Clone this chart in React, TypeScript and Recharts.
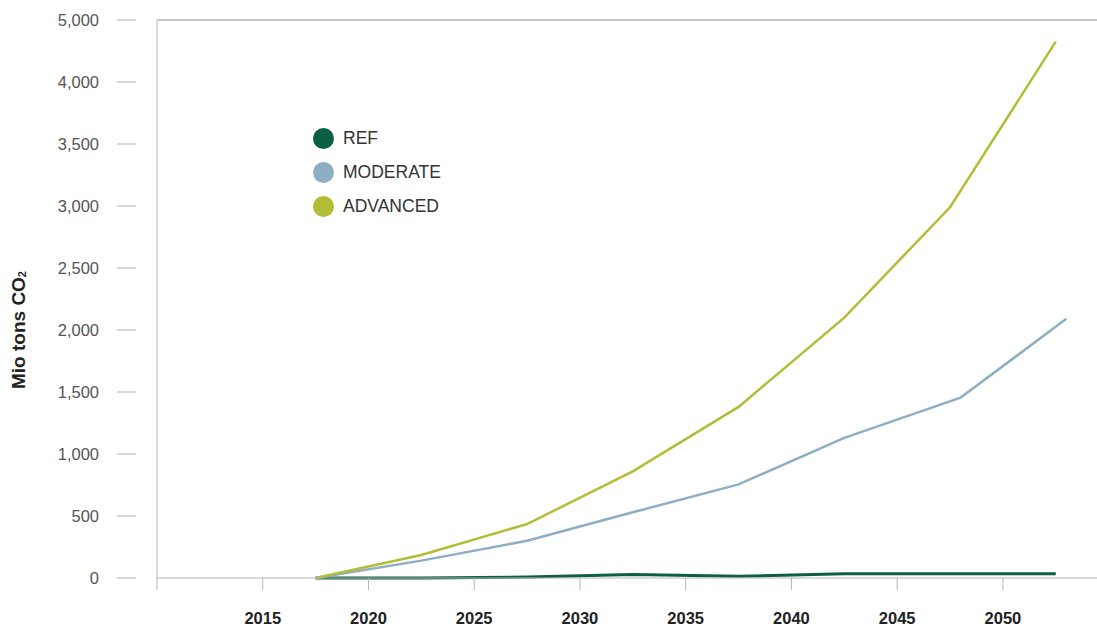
import React from "react";
import { LineChart, Line, XAxis, YAxis, ReferenceLine, Label } from "recharts";

// x positions (points sit between the year ticks)
const refYears = [2017.5, 2022.5, 2027.5, 2032.5, 2037.5, 2042.5, 2047.5, 2052.5];
const refValues = [0, 0, 8, 28, 14, 35, 35, 35];

const moderateYears = [2017.5, 2022.5, 2027.5, 2032.5, 2037.5, 2042.5, 2048, 2053];
const moderateValues = [0, 140, 300, 530, 755, 1130, 1455, 2090];

const advancedYears = [2017.5, 2022.5, 2027.5, 2032.5, 2037.5, 2042.5, 2047.5, 2052.5];
const advancedValues = [0, 185, 435, 860, 1380, 2100, 2990, 4325];

const xTicks = [2010, 2015, 2020, 2025, 2030, 2035, 2040, 2045, 2050];
const xTickLabels = ["", "2015", "2020", "2025", "2030", "2035", "2040", "2045", "2050"];

const yTicks = [0, 500, 1000, 1500, 2000, 2500, 3000, 3500, 4000, 4500];
const yTickLabels = ["0", "500", "1,000", "1,500", "2,000", "2,500", "3,000", "3,500", "4,000", "5,000"];

const series = [
    { name: "REF", color: "#0c5f45", width: 3, years: refYears, values: refValues },
    { name: "MODERATE", color: "#8eaec4", width: 2.5, years: moderateYears, values: moderateValues },
    { name: "ADVANCED", color: "#b2bd35", width: 2.5, years: advancedYears, values: advancedValues },
];

const FONT = "'Liberation Sans', Arial, sans-serif";

const YTick = (props: any) => {
    const { y, payload } = props;
    const label = yTickLabels[yTicks.indexOf(payload.value)];
    return (
        <g>
            <line x1={117} x2={136} y1={y} y2={y} stroke="#b0b0b0" strokeWidth={1} />
            <text x={99} y={y} dy="0.35em" textAnchor="end" fill="#555" fontSize={16.5} fontFamily={FONT}>
                {label}
            </text>
        </g>
    );
};

const AxisTitle = () => (
    <text
        x={18}
        y={330}
        transform="rotate(-90 18 330)"
        textAnchor="middle"
        dominantBaseline="central"
        fill="#222"
        fontSize={19}
        fontWeight="bold"
        fontFamily={FONT}
    >
        Mio tons CO
        <tspan fontSize={11} dy={4}>2</tspan>
    </text>
);

export default function App() {
    return (
        <div style={{ position: "absolute", left: 0, top: 0, width: 1097, height: 628 }}>
            <LineChart width={1097} height={628} margin={{ top: 20, right: 0, bottom: 0, left: 0 }}>
                <XAxis
                    type="number"
                    dataKey="x"
                    domain={[2010, 2054.45]}
                    allowDataOverflow
                    ticks={xTicks}
                    interval={0}
                    tickFormatter={(v: number) => xTickLabels[xTicks.indexOf(v)]}
                    height={50}
                    tickSize={12}
                    tickMargin={22}
                    stroke="#b5b5b5"
                    tick={{ fill: "#222", fontSize: 16.5, fontWeight: "bold", fontFamily: FONT }}
                />
                <YAxis
                    type="number"
                    domain={[0, 4500]}
                    ticks={yTicks}
                    interval={0}
                    width={157}
                    tickLine={false}
                    stroke="#b5b5b5"
                    tick={<YTick />}
                >
                    <Label content={<AxisTitle />} />
                </YAxis>
                <ReferenceLine y={4500} stroke="#b5b5b5" strokeWidth={1.5} />
                {series.map((s) => (
                    <Line
                        key={s.name}
                        data={s.years.map((x, i) => ({ x, value: s.values[i] }))}
                        dataKey="value"
                        name={s.name}
                        type="linear"
                        stroke={s.color}
                        strokeWidth={s.width}
                        dot={false}
                        activeDot={false}
                        isAnimationActive={false}
                    />
                ))}
            </LineChart>
            <div style={{ position: "absolute", left: 313, top: 121, fontFamily: FONT }}>
                {series.map((s) => (
                    <div key={s.name} style={{ display: "flex", alignItems: "center", height: 34 }}>
                        <span
                            style={{
                                width: 21,
                                height: 21,
                                borderRadius: "50%",
                                background: s.color,
                                display: "inline-block",
                                marginRight: 9,
                            }}
                        />
                        <span style={{ fontSize: 17.5, color: "#333" }}>{s.name}</span>
                    </div>
                ))}
            </div>
        </div>
    );
}
